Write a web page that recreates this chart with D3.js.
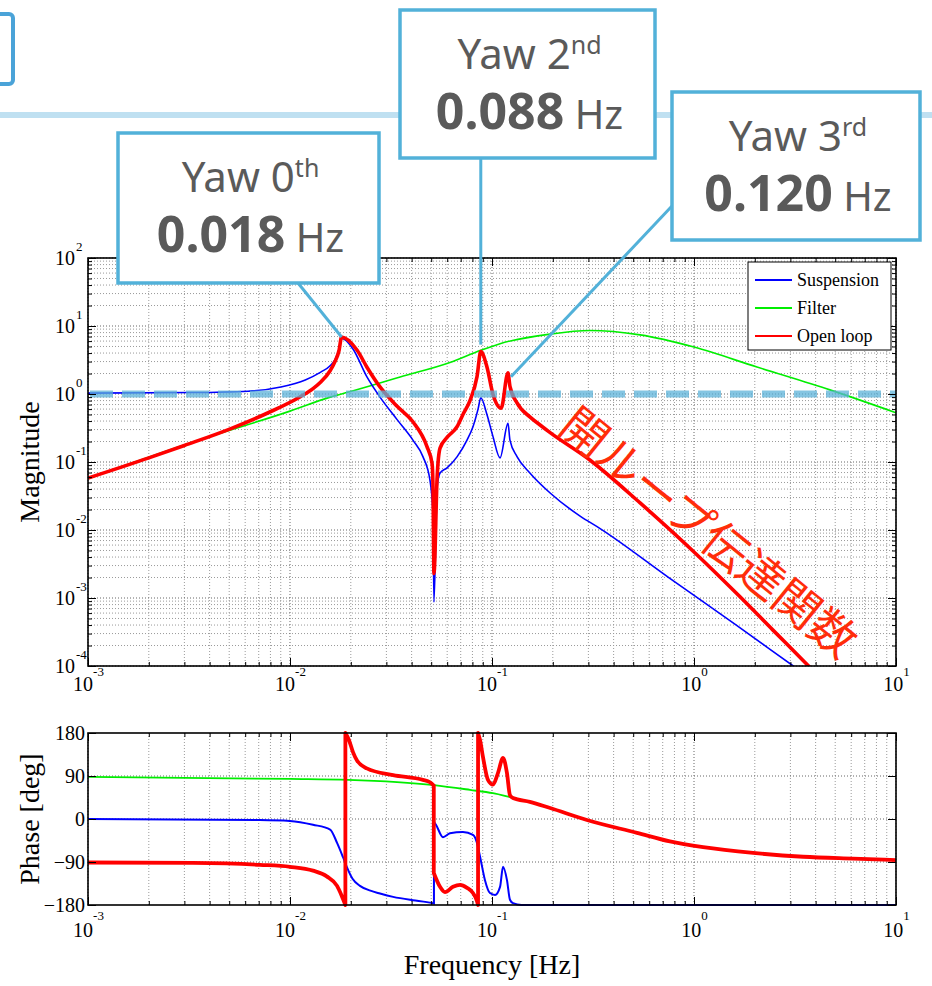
<!DOCTYPE html>
<html>
<head>
<meta charset="utf-8">
<script src="https://cdn.jsdelivr.net/npm/d3@7"></script>
<style>
  body { margin: 0; background: #fff; }
  svg { display: block; }
</style>
</head>
<body>
<svg id="chart" width="932" height="986"></svg>
<script>
// ---- Data -------------------------------------------------------------
// Tick exponents / values
const freqDecades = [-3, -2, -1, 0, 1];
const magDecades = [-4, -3, -2, -1, 0, 1, 2];
const phaseTicks = [-180, -90, 0, 90, 180];
const seriesNames = ["Suspension", "Filter", "Open loop"];
const seriesColors = ["#0000ff", "#00ee00", "#ff0000"];

// Magnitude responses: [frequency Hz, |H|]
const suspensionMag = [
  [0.001, 1.03], [0.0033, 1.05], [0.0062, 1.1], [0.009, 1.27], [0.0119, 1.61],
  [0.0142, 2.1], [0.0158, 2.6], [0.0167, 3.2], [0.0175, 4.6], [0.018, 6.6],
  [0.0205, 4.6], [0.024, 1.8], [0.0279, 0.9], [0.0339, 0.42], [0.0406, 0.21],
  [0.0455, 0.12], [0.0493, 0.054], [0.051, 0.018], [0.0516, 0.00087], [0.0535, 0.043],
  [0.0553, 0.069], [0.0599, 0.082], [0.0671, 0.119], [0.0752, 0.21], [0.0805, 0.33],
  [0.0853, 0.6], [0.088, 0.88], [0.0944, 0.5], [0.101, 0.24], [0.1096, 0.115],
  [0.12, 0.37], [0.1227, 0.21], [0.133, 0.12], [0.154, 0.069], [0.194, 0.035],
  [0.273, 0.016], [0.343, 0.0105], [0.75, 0.002], [1.6, 0.00041], [3.1, 0.0001],
  [10, 0.0000085]
];
const filterMag = [
  [0.001, 0.057], [0.0038, 0.225], [0.01, 0.56], [0.0158, 0.9], [0.0195, 1.07],
  [0.0351, 1.78], [0.0619, 2.9], [0.088, 4.4], [0.1096, 5.5], [0.194, 7.6],
  [0.305, 8.6], [0.541, 7.4], [1.0, 4.9], [2.05, 2.49], [4.71, 1.15], [10, 0.53]
];
const openLoopMag = [
  [0.001, 0.058], [0.002, 0.115], [0.003, 0.175], [0.0051, 0.31], [0.0078, 0.53],
  [0.0113, 0.92], [0.013, 1.2], [0.0142, 1.5], [0.0158, 2.2], [0.0167, 3.0],
  [0.0175, 4.4], [0.018, 6.9], [0.0215, 4.4], [0.024, 2.5], [0.0279, 1.27],
  [0.0339, 0.66], [0.0406, 0.39], [0.0476, 0.17], [0.0505, 0.095], [0.051, 0.05],
  [0.0516, 0.0023], [0.0535, 0.06], [0.0553, 0.16], [0.0599, 0.23], [0.0671, 0.33],
  [0.0718, 0.5], [0.0778, 0.8], [0.0843, 1.8], [0.088, 4.2], [0.0944, 2.5],
  [0.101, 1.0], [0.111, 0.62], [0.12, 2.05], [0.1227, 1.3], [0.133, 0.74],
  [0.154, 0.46], [0.173, 0.35], [0.194, 0.27], [0.305, 0.107], [0.541, 0.025],
  [1.0, 0.00475], [1.69, 0.00104], [2.46, 0.000337], [3.75, 0.0000952], [10, 0.0000045]
];

// Phase responses: [frequency Hz, degrees]; a repeated frequency marks a wrap/jump
const suspensionPhase = [
  [0.001, 0], [0.0071, -2], [0.01, -4], [0.013, -12], [0.0158, -22], [0.0171, -50],
  [0.0183, -80], [0.0191, -100], [0.0204, -125], [0.0222, -140], [0.025, -150],
  [0.0279, -156], [0.0324, -163], [0.0406, -170], [0.0476, -174], [0.0516, -177],
  [0.0516, -6], [0.0528, -12], [0.0572, -38], [0.0619, -30], [0.0718, -27],
  [0.0805, -33], [0.0843, -50], [0.0873, -79], [0.0923, -128], [0.0977, -155],
  [0.1035, -159], [0.1096, -142], [0.1134, -100], [0.1186, -128], [0.1227, -169],
  [0.127, -176], [0.14, -180], [10, -180]
];
const filterPhase = [
  [0.001, 88], [0.01, 84], [0.0194, 82], [0.0516, 71], [0.0778, 61], [0.101, 54],
  [0.1227, 46], [0.154, 36], [0.194, 23], [0.295, -2], [0.522, -29], [0.76, -47],
  [1.11, -59], [1.96, -71], [3.47, -79], [6.12, -83], [10, -86]
];
const openLoopPhase = [
  [0.001, -91], [0.0033, -92], [0.0071, -96], [0.01, -100], [0.013, -108],
  [0.0152, -120], [0.0171, -140], [0.018, -160], [0.0188, -180], [0.0188, 180],
  [0.0196, 165], [0.0205, 140], [0.0215, 122], [0.024, 106], [0.0324, 92],
  [0.0455, 82], [0.0493, 77], [0.0515, 70], [0.0515, -113], [0.0553, -142],
  [0.0585, -153], [0.0641, -142], [0.0695, -138], [0.0752, -144], [0.0805, -155],
  [0.0843, -172], [0.0853, -180], [0.0853, 180], [0.0873, 165], [0.0902, 130],
  [0.0955, 82], [0.1011, 72], [0.107, 96], [0.1134, 128], [0.1186, 96],
  [0.1227, 50], [0.127, 44], [0.154, 36], [0.194, 23], [0.295, -2], [0.522, -29],
  [0.76, -47], [1.11, -59], [1.96, -71], [3.47, -79], [6.12, -83], [10, -86]
];

// Resonance call-outs
const peakNames = ["Yaw 0", "Yaw 2", "Yaw 3"];
const peakOrdinals = ["th", "nd", "rd"];
const peakFreqs = [0.018, 0.088, 0.120];
const peakFreqTexts = ["0.018", "0.088", "0.120"];
const curveLabel = "開ループ伝達関数";

// ---- Scales -----------------------------------------------------------
const svg = d3.select("#chart");
const x = d3.scaleLog().domain([1e-3, 10]).range([88, 896]);
const yMag = d3.scaleLog().domain([1e-4, 1e2]).range([666, 258]);
const yPh = d3.scaleLinear().domain([-180, 180]).range([905, 733]);

function minorsBetween(a, b) {
  const out = [];
  for (let e = a; e < b; e++) for (let k = 2; k <= 9; k++) out.push(k * Math.pow(10, e));
  return out;
}
const majorF = freqDecades.map(e => Math.pow(10, e));
const minorF = minorsBetween(-3, 1);
const majorM = magDecades.map(e => Math.pow(10, e));
const minorM = minorsBetween(-4, 2);

const serif = "'Liberation Serif', 'Times New Roman', serif";
const [x0, x1] = x.range();

// smooth path that keeps vertical jumps where a frequency repeats
function jumpPath(data, ys) {
  const segs = [];
  let cur = [data[0]];
  for (let i = 1; i < data.length; i++) {
    if (data[i][0] === data[i - 1][0]) { segs.push(cur); cur = [data[i]]; }
    else cur.push(data[i]);
  }
  segs.push(cur);
  const gen = d3.line().x(d => x(d[0])).y(d => ys(d[1])).curve(d3.curveMonotoneX);
  return segs.map((s, i) => { const p = gen(s); return i === 0 ? p : "L" + p.slice(1); }).join("");
}

// ---- Grid helpers -----------------------------------------------------
function vGrid(g, vals, yA, yB, color) {
  g.append("g").selectAll("line").data(vals).join("line")
    .attr("x1", d => x(d)).attr("x2", d => x(d))
    .attr("y1", yA).attr("y2", yB)
    .attr("stroke", color).attr("stroke-width", 1).attr("stroke-dasharray", "1,2");
}
function hGrid(g, vals, scale, color) {
  g.append("g").selectAll("line").data(vals).join("line")
    .attr("x1", x0).attr("x2", x1)
    .attr("y1", d => scale(d)).attr("y2", d => scale(d))
    .attr("stroke", color).attr("stroke-width", 1).attr("stroke-dasharray", "1,2");
}
function clean(g) { g.select(".domain").remove(); }

// ---- Magnitude panel --------------------------------------------------
const [myB, myT] = yMag.range();
svg.append("clipPath").attr("id", "clipMag")
  .append("rect").attr("x", x0).attr("y", myT).attr("width", x1 - x0).attr("height", myB - myT);

const magGrid = svg.append("g");
vGrid(magGrid, minorF, myT, myB, "#9a9a9a");
hGrid(magGrid, minorM, yMag, "#9a9a9a");
vGrid(magGrid, majorF, myT, myB, "#666");
hGrid(magGrid, majorM, yMag, "#666");

const magLine = d3.line().x(d => x(d[0])).y(d => yMag(d[1])).curve(d3.curveMonotoneX);
const magCurves = svg.append("g").attr("clip-path", "url(#clipMag)");
magCurves.append("path").datum(filterMag).attr("d", magLine)
  .attr("fill", "none").attr("stroke", seriesColors[1]).attr("stroke-width", 1.6);
magCurves.append("path").datum(suspensionMag).attr("d", magLine)
  .attr("fill", "none").attr("stroke", seriesColors[0]).attr("stroke-width", 1.6);
magCurves.append("path").datum(openLoopMag).attr("d", magLine)
  .attr("fill", "none").attr("stroke", seriesColors[2]).attr("stroke-width", 3.6)
  .attr("stroke-linejoin", "round");

// unity-gain reference
svg.append("line")
  .attr("x1", x0 + 2).attr("x2", x1).attr("y1", yMag(1)).attr("y2", yMag(1))
  .attr("stroke", "rgb(91,177,216)").attr("stroke-opacity", 0.75)
  .attr("stroke-width", 7).attr("stroke-dasharray", "23,9");

// magnitude ticks
const magAx = svg.append("g");
magAx.append("g").attr("transform", `translate(0,${myB})`)
  .call(d3.axisBottom(x).tickValues(minorF).tickSize(-4).tickFormat("")).call(clean);
magAx.append("g").attr("transform", `translate(0,${myT})`)
  .call(d3.axisTop(x).tickValues(minorF).tickSize(-4).tickFormat("")).call(clean);
magAx.append("g").attr("transform", `translate(0,${myT})`)
  .call(d3.axisTop(x).tickValues(majorF).tickSize(-8).tickFormat("")).call(clean);
magAx.append("g").attr("transform", `translate(${x0},0)`)
  .call(d3.axisLeft(yMag).tickValues(minorM).tickSize(-4).tickFormat("")).call(clean);
magAx.append("g").attr("transform", `translate(${x1},0)`)
  .call(d3.axisRight(yMag).tickValues(minorM).tickSize(-4).tickFormat("")).call(clean);
magAx.append("g").attr("transform", `translate(${x1},0)`)
  .call(d3.axisRight(yMag).tickValues(majorM).tickSize(-8).tickFormat("")).call(clean);

const magBottom = magAx.append("g").attr("transform", `translate(0,${myB})`)
  .call(d3.axisBottom(x).tickValues(majorF).tickSize(-8).tickFormat(() => "10")).call(clean);
magBottom.attr("font-family", serif).attr("font-size", 20);
magBottom.selectAll(".tick text").attr("y", 25).attr("dy", null).attr("fill", "#000")
  .append("tspan").attr("dy", -15).attr("font-size", 13).text(d => Math.round(Math.log10(d)));

const magLeft = magAx.append("g").attr("transform", `translate(${x0},0)`)
  .call(d3.axisLeft(yMag).tickValues(majorM).tickSize(-8).tickPadding(13).tickFormat(() => "10")).call(clean);
magLeft.attr("font-family", serif).attr("font-size", 20);
magLeft.selectAll(".tick text").attr("fill", "#000");
magLeft.selectAll(".tick").append("text")
  .attr("x", -12).attr("y", -8).attr("text-anchor", "start").attr("font-size", 13).attr("fill", "#000")
  .text(d => Math.round(Math.log10(d)));

svg.append("rect").attr("x", x0).attr("y", myT).attr("width", x1 - x0).attr("height", myB - myT)
  .attr("fill", "none").attr("stroke", "#000").attr("stroke-width", 1.6);

// legend
const lg = svg.append("g").attr("transform", "translate(748,262)");
lg.append("rect").attr("width", 143).attr("height", 88).attr("fill", "#fff")
  .attr("stroke", "#000").attr("stroke-width", 1);
seriesNames.forEach((name, i) => {
  const yy = 18 + i * 28;
  lg.append("line").attr("x1", 7).attr("x2", 44).attr("y1", yy).attr("y2", yy)
    .attr("stroke", seriesColors[i]).attr("stroke-width", 2.2);
  lg.append("text").attr("x", 49).attr("y", yy + 6).attr("font-family", serif)
    .attr("font-size", 18).attr("fill", "#000").text(name);
});

svg.append("text").attr("transform", `translate(39,${(myT + myB) / 2}) rotate(-90)`)
  .attr("text-anchor", "middle").attr("font-family", serif).attr("font-size", 28)
  .attr("fill", "#000").text("Magnitude");

// ---- Phase panel ------------------------------------------------------
const [pyB, pyT] = yPh.range();
svg.append("clipPath").attr("id", "clipPh")
  .append("rect").attr("x", x0).attr("y", pyT - 2).attr("width", x1 - x0).attr("height", pyB - pyT + 4);

const phGrid = svg.append("g");
vGrid(phGrid, minorF, pyT, pyB, "#9a9a9a");
vGrid(phGrid, majorF, pyT, pyB, "#666");
hGrid(phGrid, phaseTicks.slice(1, -1), yPh, "#666");

const phCurves = svg.append("g").attr("clip-path", "url(#clipPh)");
phCurves.append("path").attr("d", jumpPath(filterPhase, yPh))
  .attr("fill", "none").attr("stroke", seriesColors[1]).attr("stroke-width", 1.8);
phCurves.append("path").attr("d", jumpPath(suspensionPhase, yPh))
  .attr("fill", "none").attr("stroke", seriesColors[0]).attr("stroke-width", 2);
phCurves.append("path").attr("d", jumpPath(openLoopPhase, yPh))
  .attr("fill", "none").attr("stroke", seriesColors[2]).attr("stroke-width", 3.8)
  .attr("stroke-linejoin", "round");

const phAx = svg.append("g");
phAx.append("g").attr("transform", `translate(0,${pyB})`)
  .call(d3.axisBottom(x).tickValues(minorF).tickSize(-4).tickFormat("")).call(clean);
phAx.append("g").attr("transform", `translate(0,${pyT})`)
  .call(d3.axisTop(x).tickValues(minorF).tickSize(-4).tickFormat("")).call(clean);
phAx.append("g").attr("transform", `translate(0,${pyT})`)
  .call(d3.axisTop(x).tickValues(majorF).tickSize(-8).tickFormat("")).call(clean);
phAx.append("g").attr("transform", `translate(${x1},0)`)
  .call(d3.axisRight(yPh).tickValues(phaseTicks).tickSize(-8).tickFormat("")).call(clean);

const phBottom = phAx.append("g").attr("transform", `translate(0,${pyB})`)
  .call(d3.axisBottom(x).tickValues(majorF).tickSize(-8).tickFormat(() => "10")).call(clean);
phBottom.attr("font-family", serif).attr("font-size", 20);
phBottom.selectAll(".tick text").attr("y", 32).attr("dy", null).attr("fill", "#000")
  .append("tspan").attr("dy", -17).attr("font-size", 13).text(d => Math.round(Math.log10(d)));

const phLeft = phAx.append("g").attr("transform", `translate(${x0},0)`)
  .call(d3.axisLeft(yPh).tickValues(phaseTicks).tickSize(-8).tickPadding(3).tickFormat(d3.format("d"))).call(clean);
phLeft.attr("font-family", serif).attr("font-size", 20);
phLeft.selectAll(".tick text").attr("fill", "#000");

svg.append("rect").attr("x", x0).attr("y", pyT).attr("width", x1 - x0).attr("height", pyB - pyT)
  .attr("fill", "none").attr("stroke", "#000").attr("stroke-width", 1.6);

svg.append("text").attr("transform", `translate(39,${(pyT + pyB) / 2}) rotate(-90)`)
  .attr("text-anchor", "middle").attr("font-family", serif).attr("font-size", 28)
  .attr("fill", "#000").text("Phase [deg]");

svg.append("text").attr("x", (x0 + x1) / 2).attr("y", 974)
  .attr("text-anchor", "middle").attr("font-family", serif).attr("font-size", 28)
  .attr("fill", "#000").text("Frequency [Hz]");

// ---- Curve caption ----------------------------------------------------
svg.append("text")
  .attr("transform", "translate(711,530) rotate(39)")
  .attr("text-anchor", "middle").attr("dominant-baseline", "central")
  .attr("font-family", "'Noto Sans CJK JP', sans-serif").attr("font-size", 46)
  .attr("fill", "#ff2d0a").text(curveLabel);

// ---- Slide decoration & call-outs -------------------------------------
const accent = "#52b1d9";
svg.append("line").attr("x1", 0).attr("x2", 932).attr("y1", 115).attr("y2", 115)
  .attr("stroke", "#bfe0f1").attr("stroke-width", 6);
svg.append("rect").attr("x", -30).attr("y", 14).attr("width", 43).attr("height", 70).attr("rx", 4)
  .attr("fill", "none").attr("stroke", "#4aa3d8").attr("stroke-width", 4);

function peakValue(f) {
  const p = openLoopMag.find(d => d[0] === f);
  return p ? p[1] : 1;
}

const boxes = [
  { x: 118, y: 133, w: 261, h: 150, from: [298, 283], off: [0, 0] },
  { x: 400, y: 10, w: 255, h: 148, from: [480, 158], off: [0, -7] },
  { x: 672, y: 92, w: 248, h: 148, from: [672, 206], off: [3, 4] }
];

const callouts = svg.append("g");
boxes.forEach((b, i) => {
  const f = peakFreqs[i];
  const px = x(f) + b.off[0];
  const py = yMag(peakValue(f)) + b.off[1];
  callouts.append("line")
    .attr("x1", i === 1 ? px : b.from[0]).attr("y1", b.from[1])
    .attr("x2", px).attr("y2", py)
    .attr("stroke", accent).attr("stroke-width", 3);
});
boxes.forEach((b, i) => {
  const g = callouts.append("g");
  g.append("rect").attr("x", b.x).attr("y", b.y).attr("width", b.w).attr("height", b.h)
    .attr("fill", "#fff").attr("stroke", accent).attr("stroke-width", 3.5);
  const cx = b.x + b.w / 2 + 2;
  const t1 = g.append("text").attr("x", cx).attr("y", b.y + 59)
    .attr("text-anchor", "middle").attr("font-family", "'Noto Sans', 'Open Sans', sans-serif")
    .attr("font-size", 42).attr("fill", "#5a5a5a");
  t1.append("tspan").text(peakNames[i]);
  t1.append("tspan").attr("dy", -15).attr("font-size", 25).text(peakOrdinals[i]);
  const t2 = g.append("text").attr("x", cx).attr("y", b.y + 119)
    .attr("text-anchor", "middle").attr("font-family", "'Noto Sans', 'Open Sans', sans-serif")
    .attr("fill", "#5a5a5a");
  t2.append("tspan").attr("font-size", 50).attr("font-weight", 700).text(peakFreqTexts[i]);
  t2.append("tspan").attr("font-size", 40).text(" Hz");
});
</script>
</body>
</html>
